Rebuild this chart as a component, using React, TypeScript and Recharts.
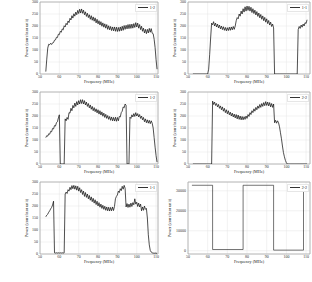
import React from 'react';
import { LineChart, Line, XAxis, YAxis, CartesianGrid, ReferenceArea } from 'recharts';

const FONT = '"Liberation Serif", "Times New Roman", serif';

const X_TICKS = [50, 60, 70, 80, 90, 100, 110];
const Y_TICKS = [0, 50, 100, 150, 200, 250, 300];
const Y_TICKS_6 = [0, 10000, 20000, 30000];

const FREQ = [
  52.5,
  53, 53.5, 54, 54.5, 55, 55.5, 56, 56.5, 57, 57.5,
  58, 58.5, 59, 59.5, 60, 60.5, 61, 61.5, 62, 62.5,
  63, 63.5, 64, 64.5, 65, 65.5, 66, 66.5, 67, 67.5,
  68, 68.5, 69, 69.5, 70, 70.5, 71, 71.5, 72, 72.5,
  73, 73.5, 74, 74.5, 75, 75.5, 76, 76.5, 77, 77.5,
  78, 78.5, 79, 79.5, 80, 80.5, 81, 81.5, 82, 82.5,
  83, 83.5, 84, 84.5, 85, 85.5, 86, 86.5, 87, 87.5,
  88, 88.5, 89, 89.5, 90, 90.5, 91, 91.5, 92, 92.5,
  93, 93.5, 94, 94.5, 95, 95.5, 96, 96.5, 97, 97.5,
  98, 98.5, 99, 99.5, 100, 100.5, 101, 101.5, 102, 102.5,
  103, 103.5, 104, 104.5, 105, 105.5, 106, 106.5, 107, 107.5,
  108, 108.5, 109, 109.5, 110, 110.5,
];

const S1 = [
  null,
  10, 62, 108, 124, 122, 128, 123, 130, 131, 141,
  142, 153, 152, 166, 164, 178, 174, 188, 184, 201,
  196, 211, 205, 221, 214, 232, 225, 243, 233, 251,
  241, 258, 247, 265, 252, 270, 254, 271, 253, 266,
  247, 259, 240, 253, 235, 247, 228, 243, 224, 238,
  220, 234, 213, 228, 209, 222, 204, 218, 199, 213,
  195, 209, 191, 206, 186, 201, 184, 198, 181, 196,
  180, 196, 178, 195, 177, 194, 178, 196, 180, 199,
  182, 202, 186, 203, 188, 206, 189, 207, 190, 208,
  191, 210, 194, 214, 196, 212, 191, 206, 185, 199,
  178, 191, 171, 186, 168, 186, 171, 190, 174, 189,
  170, 168, 145, 110, 60, 20,
];

const S2 = [
  0,
  0, 0, 0, 0, 0, 0, 0, 0, 0, 0,
  0, 0, 0, 0, 0, 20, 80, 150, 212, 205,
  218, 200, 212, 196, 208, 192, 204, 188, 200, 185,
  197, 182, 194, 180, 193, 181, 195, 182, 196, 184,
  198, 186, 200, 222, 235, 230, 250, 241, 262, 250,
  272, 258, 280, 262, 283, 265, 282, 262, 278, 256,
  272, 252, 266, 246, 260, 240, 254, 234, 248, 228,
  242, 222, 236, 216, 230, 210, 223, 204, 216, 198,
  208, 192, 0, 0, 0, 0, 0, 0, 0, 0,
  0, 0, 0, 0, 0, 0, 0, 0, 0, 0,
  0, 0, 0, 0, 0, 0, 185, 198, 190, 204,
  195, 208, 200, 214, 210, 226,
];

const S3 = [
  null,
  110, 118, 116, 126, 124, 136, 134, 148, 146, 160,
  158, 172, 176, 192, 205, 0, 0, 0, 0, 0,
  188, 180, 194, 186, 214, 212, 232, 222, 244, 234,
  254, 240, 260, 246, 264, 250, 268, 252, 268, 250,
  264, 246, 258, 240, 252, 234, 246, 228, 240, 222,
  235, 218, 230, 213, 226, 208, 222, 204, 217, 199,
  212, 194, 207, 190, 202, 186, 198, 182, 196, 180,
  194, 179, 195, 178, 194, 180, 198, 196, 214, 220,
  238, 234, 250, 244, 0, 0, 0, 195, 190, 205,
  196, 210, 198, 214, 200, 210, 196, 206, 190, 200,
  184, 194, 176, 188, 172, 184, 170, 182, 168, 180,
  170, 150, 110, 70, 35, 8,
];

const S4 = [
  0,
  0, 0, 0, 0, 0, 0, 0, 0, 0, 0,
  0, 0, 0, 0, 0, 0, 0, 0, 0, 262,
  248, 258, 244, 252, 238, 248, 232, 242, 226, 238,
  220, 232, 214, 226, 209, 222, 205, 216, 200, 212,
  196, 208, 192, 206, 188, 204, 186, 200, 184, 198,
  184, 197, 186, 200, 190, 206, 198, 214, 206, 222,
  214, 230, 220, 236, 226, 242, 232, 248, 236, 252,
  240, 256, 243, 260, 244, 258, 242, 256, 238, 252,
  236, 250, 172, 182, 170, 180, 172, 155, 130, 105,
  75, 48, 30, 15, 5, 0, 0, 0, 0, 0,
  0, 0, 0, 0, 0, 0, 0, 0, 0, 0,
  0, 0, 0, 0, 0, 0,
];

const S5 = [
  null,
  155, 162, 166, 174, 180, 188, 194, 204, 220, 5,
  4, 5, 4, 5, 4, 5, 4, 5, 4, 5,
  250, 258, 252, 268, 262, 278, 268, 285, 272, 286,
  270, 284, 266, 282, 262, 276, 256, 268, 248, 262,
  240, 256, 236, 250, 230, 244, 224, 238, 218, 232,
  212, 226, 206, 220, 200, 214, 195, 208, 190, 203,
  186, 199, 182, 196, 180, 195, 179, 194, 180, 196,
  181, 198, 230, 240, 246, 262, 256, 272, 264, 282,
  270, 286, 274, 196, 210, 194, 208, 195, 212, 198,
  214, 205, 230, 208, 216, 198, 212, 196, 208, 180,
  196, 182, 200, 186, 190, 150, 80, 38, 15, 8,
  5, 4, 3, 4, 3, 3,
];

const F6 = [52, 62.5, 78, 93.5, 108.7, 110.5];
const S6 = [32767, 600, 32767, 300, 32767, 32767];

const ML = 40;
const MT = 6;
const MR = 6;
const XH = 16;
const PH = 72;

type PanelProps = {
  left: number;
  top: number;
  pw: number;
  xMax: number;
  freq: number[];
  values: (number | null)[];
  yDomain: [number, number];
  yTicks: number[];
  label: string;
  yLabelX: number;
  step?: boolean;
};

function Panel(p: PanelProps) {
  const data = p.freq.map((f, i) => ({ f, v: p.values[i] }));
  const W = ML + p.pw + MR;
  const H = MT + PH + XH;
  const tickStyle = { fontSize: 4, fill: '#333', fontFamily: FONT };
  return (
    <div style={{ position: 'absolute', left: p.left - ML, top: p.top - MT, width: W, height: H }}>
      <LineChart width={W} height={H} data={data} margin={{ top: MT, right: MR, bottom: 0, left: 0 }}>
        <CartesianGrid stroke="#e4e4e4" strokeWidth={0.5} />
        <XAxis
          type="number"
          dataKey="f"
          domain={[50, p.xMax]}
          ticks={X_TICKS}
          interval={0}
          height={XH}
          tick={tickStyle}
          tickLine={false}
          axisLine={false}
          tickSize={1}
          tickMargin={0}
          allowDataOverflow
        />
        <YAxis
          type="number"
          domain={p.yDomain}
          ticks={p.yTicks}
          interval={0}
          width={ML}
          tick={tickStyle}
          tickLine={false}
          axisLine={false}
          tickSize={1}
          tickMargin={1}
          allowDataOverflow
        />
        <Line
          type={p.step ? 'stepAfter' : 'linear'}
          dataKey="v"
          stroke="#151515"
          strokeWidth={p.step ? 0.6 : 0.75}
          dot={false}
          activeDot={false}
          isAnimationActive={false}
          connectNulls={false}
        />
        <ReferenceArea
          x1={50}
          x2={p.xMax}
          y1={p.yDomain[0]}
          y2={p.yDomain[1]}
          fill="none"
          fillOpacity={0}
          stroke="#a8a8a8"
          strokeWidth={0.8}
          ifOverflow="visible"
        />
      </LineChart>
      <div
        style={{
          position: 'absolute',
          left: p.yLabelX - (p.left - ML),
          top: MT + PH / 2,
          transform: 'translate(-50%, -50%) rotate(-90deg)',
          fontFamily: FONT,
          fontSize: 4.2,
          lineHeight: 1,
          whiteSpace: 'nowrap',
          color: '#222',
        }}
      >
        Power (correlator unit)
      </div>
      <div
        style={{
          position: 'absolute',
          left: ML + p.pw / 2,
          top: MT + PH + 7.7,
          transform: 'translate(-50%, -50%)',
          fontFamily: FONT,
          fontSize: 4.2,
          lineHeight: 1,
          whiteSpace: 'nowrap',
          color: '#222',
        }}
      >
        Frequency (MHz)
      </div>
      <div
        style={{
          position: 'absolute',
          right: MR + 1,
          top: MT + 1.5,
          display: 'flex',
          alignItems: 'center',
          background: '#fff',
          border: '0.5px solid #e6e6e6',
          padding: '1px 1px 1px 2px',
          fontFamily: FONT,
          fontSize: 4,
          lineHeight: 1,
          color: '#222',
        }}
      >
        <div style={{ width: 10, height: 0, borderTop: '0.6px solid #333', marginRight: 2 }} />
        <span>{p.label}</span>
      </div>
    </div>
  );
}

export default function App() {
  return (
    <div style={{ position: 'absolute', left: 0, top: 0, width: 312, height: 282, background: '#fff' }}>
      <Panel left={40} top={2} pw={118} xMax={111} freq={FREQ} values={S1} yDomain={[0, 300]} yTicks={Y_TICKS} label="1-2" yLabelX={27} />
      <Panel left={188} top={2} pw={122} xMax={112} freq={FREQ} values={S2} yDomain={[0, 300]} yTicks={Y_TICKS} label="1-1" yLabelX={175} />
      <Panel left={40} top={92} pw={118} xMax={111} freq={FREQ} values={S3} yDomain={[0, 300]} yTicks={Y_TICKS} label="1-2" yLabelX={27} />
      <Panel left={188} top={92} pw={122} xMax={112} freq={FREQ} values={S4} yDomain={[0, 300]} yTicks={Y_TICKS} label="2-2" yLabelX={175} />
      <Panel left={40} top={182} pw={118} xMax={111} freq={FREQ} values={S5} yDomain={[0, 300]} yTicks={Y_TICKS} label="1-1" yLabelX={27} />
      <Panel left={188} top={182} pw={122} xMax={112} freq={F6} values={S6} yDomain={[-1638, 34405]} yTicks={Y_TICKS_6} label="2-2" yLabelX={170} step />
    </div>
  );
}
